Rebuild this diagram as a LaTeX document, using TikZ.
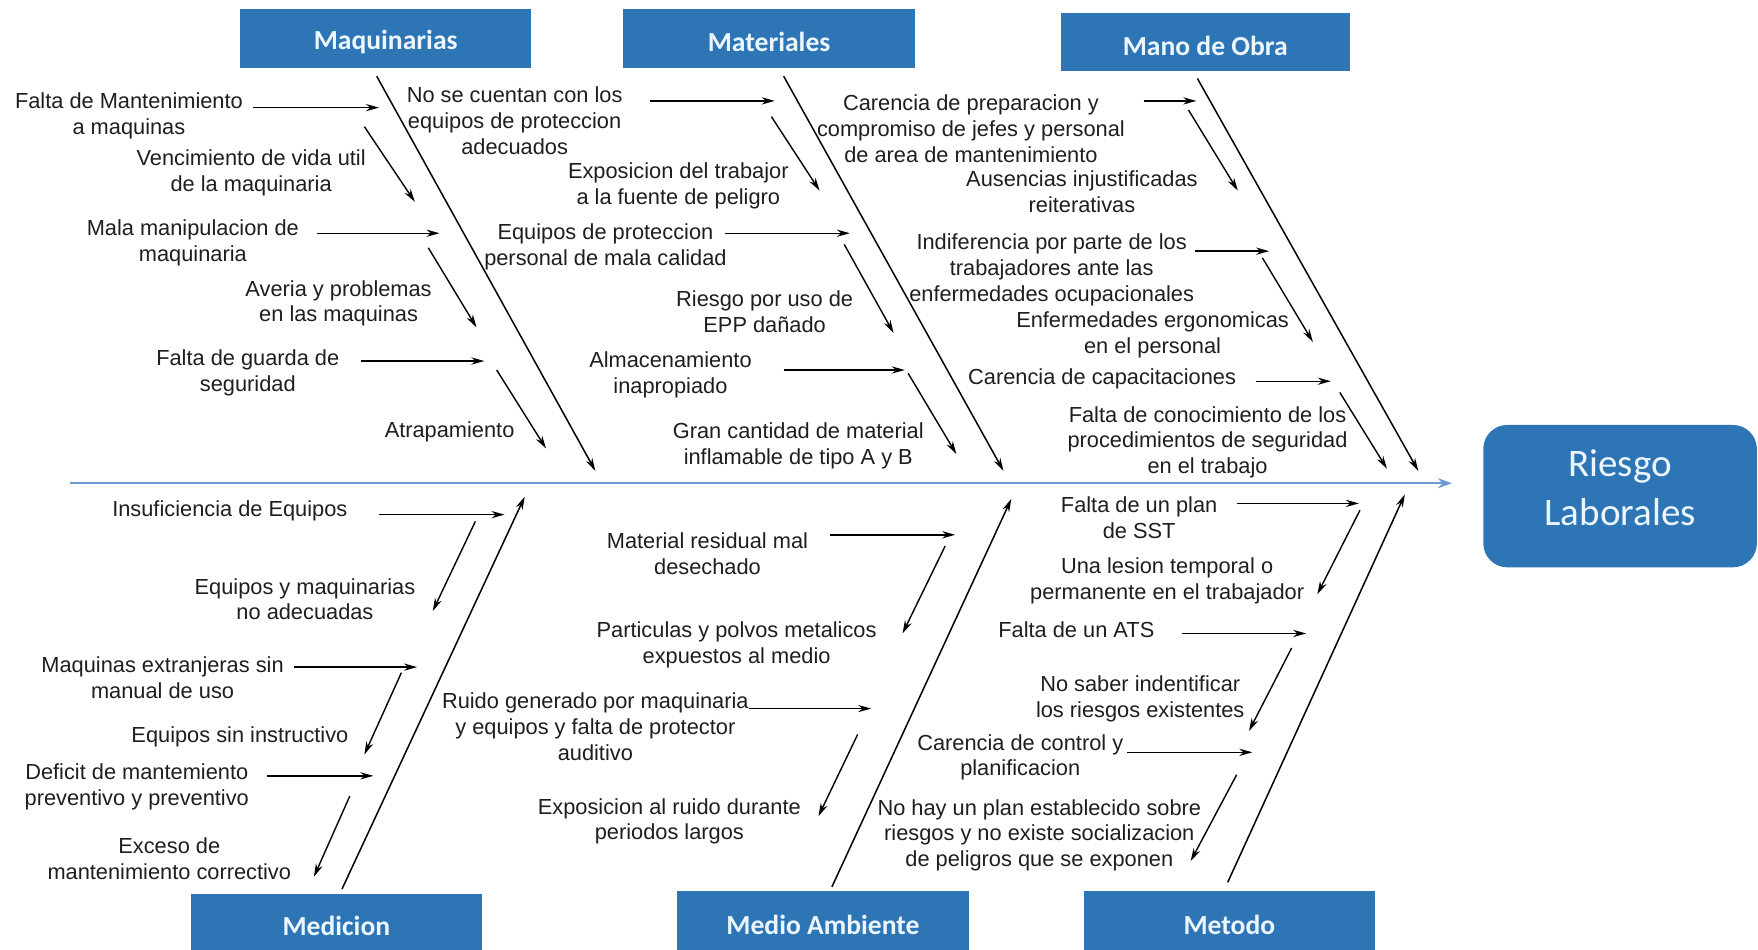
\documentclass[tikz,border=0pt]{standalone}
\usepackage{fontspec}
\setmainfont{Liberation Sans}
\newfontfamily\calib{Carlito}
\usetikzlibrary{arrows.meta}
\definecolor{boxblue}{RGB}{46,117,182}
\definecolor{spineblue}{RGB}{110,155,210}
\definecolor{txt}{RGB}{30,30,30}
\definecolor{hdrtext}{RGB}{236,246,255}
\begin{document}
\begin{tikzpicture}[x=0.5606pt,y=-0.5606pt,
  lbl/.style={font=\fontsize{10.9}{12.9}\selectfont, text=txt, align=center, inner sep=0pt},
  hdr/.style={fill=boxblue, draw=none, text=hdrtext, font=\calib\bfseries\fontsize{13.8}{16}\selectfont, inner sep=0pt, minimum width=145.8pt},
  hdrt/.style={text=hdrtext, font=\calib\bfseries\fontsize{13.8}{16}\selectfont, inner sep=0pt},
  sub/.style={-{Stealth[length=6.5pt,width=3.6pt]}, line width=0.7pt, black},
  bone/.style={-{Stealth[length=6.5pt,width=3.6pt]}, line width=0.75pt, black},
  spine/.style={-{Stealth[length=7pt,width=5pt]}, line width=1.1pt, spineblue}]
\useasboundingbox (0,0) rectangle (1568,847);

% header boxes
\node[hdr, minimum height=29.7pt] (maq) at (344,34.5) {};
\node[hdrt] (maqt) at (344,37) {Maquinarias};
\node[hdr, minimum height=29.7pt] (mat) at (686,34.5) {};
\node[hdrt] (matt) at (686,37) {Materiales};
\node[hdr, minimum height=28.6pt, minimum width=144.6pt] (mdo) at (1075,37.5) {};
\node[hdrt] (mdot) at (1075,41) {Mano de Obra};
\node[hdr, minimum height=32.5pt] (med) at (300,826) {};
\node[hdrt] (medt) at (300,826) {Medicion};
\node[hdr, minimum height=33.6pt] (mam) at (734,825) {};
\node[hdrt] (mamt) at (734,824.5) {Medio Ambiente};
\node[hdr, minimum height=33.6pt, minimum width=145.2pt] (met) at (1096.5,825) {};
\node[hdrt] (mett) at (1096.5,824.5) {Metodo};
\node[fill=boxblue, rounded corners=12pt, minimum width=136.8pt, minimum height=71.2pt, inner sep=0pt] (rl) at (1445,442.5) {};
\node[text=hdrtext, align=center, inner sep=0pt, font=\calib\fontsize{19.5}{24.7}\selectfont] (rlt) at (1445,435) {Riesgo\\Laborales};

% spine
\draw[spine] (62,431) coordinate (sp0) -- (1295,431) coordinate (sp1);

% main bones
\draw[bone] (336,68) coordinate (bq0) -- (531,420) coordinate (bq1);
\draw[bone] (699,68) coordinate (bt0) -- (895,420) coordinate (bt1);
\draw[bone] (1068,70) coordinate (bo0) -- (1265,420) coordinate (bo1);
\draw[bone] (305,793) coordinate (bm0) -- (468,443) coordinate (bm1);
\draw[bone] (742,791) coordinate (ba0) -- (902,445) coordinate (ba1);
\draw[bone] (1095,787) coordinate (be0) -- (1253,441) coordinate (be1);

% Maquinarias
\node[lbl] (t1) at (115,103.5) {Falta de Mantenimiento\\a maquinas};
\node[lbl] (t2) at (224,154.5) {Vencimiento de vida util\\de la maquinaria};
\node[lbl] (t3) at (172,216.5) {Mala manipulacion de\\maquinaria};
\node[lbl] (t4) at (302,270.5) {Averia y problemas\\en las maquinas};
\node[lbl] (t5) at (221,332.5) {Falta de guarda de\\seguridad};
\node[lbl] (t6) at (401,385) {Atrapamiento};
\draw[sub] (226,96) coordinate (a1s) -- (338,96) coordinate (a1e);
\draw[sub] (325,113) coordinate (a2s) -- (370,180) coordinate (a2e);
\draw[sub] (283,208) coordinate (a3s) -- (392,208) coordinate (a3e);
\draw[sub] (382,221) coordinate (a4s) -- (425,292) coordinate (a4e);
\draw[sub] (322,322) coordinate (a5s) -- (432,322) coordinate (a5e);
\draw[sub] (443,330) coordinate (a6s) -- (487,400) coordinate (a6e);

% Materiales
\node[lbl] (t7) at (459,107.5) {No se cuentan con los\\equipos de proteccion\\adecuados};
\node[lbl] (t8) at (605,166) {Exposicion del trabajor\\a la fuente de peligro};
\node[lbl] (t9) at (540,220) {Equipos de proteccion\\personal de mala calidad};
\node[lbl] (t10) at (682,278) {Riesgo por uso de\\EPP dañado};
\node[lbl] (t11) at (598,334.5) {Almacenamiento\\inapropiado};
\node[lbl] (t12) at (712,398) {Gran cantidad de material\\inflamable de tipo A y B};
\draw[sub] (580,90) coordinate (b1s) -- (691,90) coordinate (b1e);
\draw[sub] (688,104) coordinate (b2s) -- (731,170) coordinate (b2e);
\draw[sub] (647,208) coordinate (b3s) -- (758,208) coordinate (b3e);
\draw[sub] (753,218) coordinate (b4s) -- (797,297) coordinate (b4e);
\draw[sub] (699,330) coordinate (b5s) -- (807,330) coordinate (b5e);
\draw[sub] (810,333) coordinate (b6s) -- (853,405) coordinate (b6e);

% Mano de Obra
\node[lbl] (t13) at (866,115) {Carencia de preparacion y\\compromiso de jefes y personal\\de area de mantenimiento};
\node[lbl] (t14) at (965,171) {Ausencias injustificadas\\reiterativas};
\node[lbl] (t15) at (938,240.5) {Indiferencia por parte de los\\trabajadores ante las\\enfermedades ocupacionales};
\node[lbl] (t16) at (1028,298.5) {Enfermedades ergonomicas\\en el personal};
\node[lbl] (t17) at (983,338) {Carencia de capacitaciones};
\node[lbl] (t18) at (1077,394.5) {Falta de conocimiento de los\\procedimientos de seguridad\\en el trabajo};
\draw[sub] (1020,90) coordinate (c1s) -- (1067,90) coordinate (c1e);
\draw[sub] (1060,98) coordinate (c2s) -- (1104,170) coordinate (c2e);
\draw[sub] (1066,224) coordinate (c3s) -- (1132,224) coordinate (c3e);
\draw[sub] (1126,230) coordinate (c4s) -- (1171,305) coordinate (c4e);
\draw[sub] (1120,340) coordinate (c5s) -- (1187,340) coordinate (c5e);
\draw[sub] (1195,350) coordinate (c6s) -- (1237,418) coordinate (c6e);

% Medicion
\node[lbl] (t19) at (205,456) {Insuficiencia de Equipos};
\node[lbl] (t20) at (272,534.5) {Equipos y maquinarias\\no adecuadas};
\node[lbl] (t21) at (145,604.5) {Maquinas extranjeras sin\\manual de uso};
\node[lbl] (t22) at (214,657) {Equipos sin instructivo};
\node[lbl] (t23) at (122,702) {Deficit de mantemiento\\preventivo y preventivo};
\node[lbl] (t24) at (151,766) {Exceso de\\mantenimiento correctivo};
\draw[sub] (338,459) coordinate (d1s) -- (450,459) coordinate (d1e);
\draw[sub] (424,465) coordinate (d2s) -- (386,545) coordinate (d2e);
\draw[sub] (262,595) coordinate (d3s) -- (372,595) coordinate (d3e);
\draw[sub] (358,600) coordinate (d4s) -- (325,673) coordinate (d4e);
\draw[sub] (238,692) coordinate (d5s) -- (333,692) coordinate (d5e);
\draw[sub] (312,710) coordinate (d6s) -- (280,782) coordinate (d6e);

% Medio Ambiente
\node[lbl] (t25) at (631,494) {Material residual mal\\desechado};
\node[lbl] (t26) at (657,575) {Particulas y polvos metalicos\\expuestos al medio};
\node[lbl] (t27) at (531,648) {Ruido generado por maquinaria\\y equipos y falta de protector\\auditivo};
\node[lbl] (t28) at (597,732.5) {Exposicion al ruido durante\\periodos largos};
\draw[sub] (740,477) coordinate (e1s) -- (852,477) coordinate (e1e);
\draw[sub] (843,487) coordinate (e2s) -- (805,565) coordinate (e2e);
\draw[sub] (668,632) coordinate (e3s) -- (777,632) coordinate (e3e);
\draw[sub] (765,655) coordinate (e4s) -- (730,728) coordinate (e4e);

% Metodo
\node[lbl] (t29) at (1016,462) {Falta de un plan\\de SST};
\node[lbl] (t30) at (1041,518) {Una lesion temporal o\\permanente en el trabajador};
\node[lbl] (t31) at (960,562) {Falta de un ATS};
\node[lbl] (t32) at (1017,623.5) {No saber indentificar\\los riesgos existentes};
\node[lbl] (t33) at (910,675.5) {Carencia de control y\\planificacion};
\node[lbl] (t34) at (927,745) {No hay un plan establecido sobre\\riesgos y no existe socializacion\\de peligros que se exponen};
\draw[sub] (1103,449) coordinate (f1s) -- (1212,449) coordinate (f1e);
\draw[sub] (1213,455) coordinate (f2s) -- (1175,530) coordinate (f2e);
\draw[sub] (1054,565) coordinate (f3s) -- (1165,565) coordinate (f3e);
\draw[sub] (1152,578) coordinate (f4s) -- (1114,652) coordinate (f4e);
\draw[sub] (1005,671) coordinate (f5s) -- (1117,671) coordinate (f5e);
\draw[sub] (1103,691) coordinate (f6s) -- (1062,768) coordinate (f6e);
\end{tikzpicture}
\end{document}
